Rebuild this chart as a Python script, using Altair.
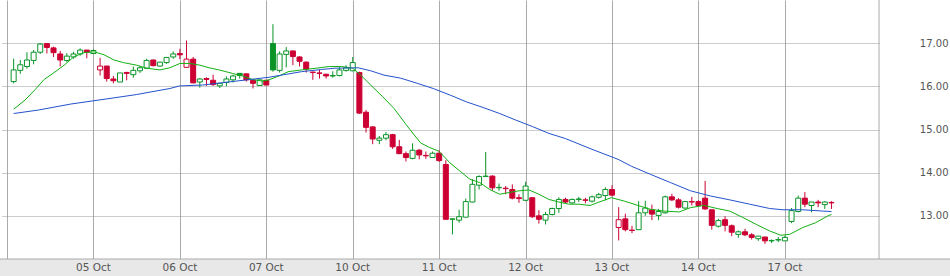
import altair as alt
import pandas as pd

# ---- data ----
day_labels = ["04 Oct", "05 Oct", "06 Oct", "07 Oct", "10 Oct", "11 Oct",
              "12 Oct", "13 Oct", "14 Oct", "17 Oct"]
bars_per_day = 13
first_bar = 1  # index of first visible bar (bar 0 of 04 Oct not shown)

opens = [
    16.11, 16.37, 16.46, 16.60, 16.79, 16.99, 16.89, 16.75, 16.60, 16.68, 16.75, 16.84,
    16.76, 16.38, 16.47, 16.17, 16.10, 16.32, 16.27, 16.36, 16.42, 16.61, 16.47, 16.55, 16.68,
    16.76, 16.44, 16.63, 16.10, 16.18, 16.14, 16.01, 16.09, 16.15, 16.30, 16.29, 16.14, 16.02,
    16.14, 16.99, 16.37, 16.74, 16.82, 16.68, 16.56, 16.33, 16.31, 16.28, 16.24, 16.25, 16.37,
    16.36, 16.32, 15.40, 15.06, 14.75, 14.80, 14.88, 14.60, 14.44, 14.33, 14.52, 14.40, 14.35,
    14.45, 14.19, 12.92, 12.90, 12.97, 13.32, 13.71, 13.91, 13.92, 13.65, 13.64, 13.61, 13.42,
    13.36, 13.42, 13.00, 12.90, 13.03, 13.17, 13.38, 13.30, 13.38, 13.37, 13.34, 13.43, 13.47,
    13.61, 12.73, 12.93, 12.67, 12.68, 13.07, 13.14, 13.01, 13.07, 13.44, 13.37, 13.18, 13.33,
    13.33, 13.41, 13.14, 12.76, 12.91, 12.77, 12.57, 12.63, 12.56, 12.47, 12.51, 12.42, 12.44,
    12.42, 12.87, 13.10, 13.41, 13.24, 13.32, 13.26, 13.31,
]
highs = [
    16.64, 16.61, 16.79, 16.84, 17.00, 17.00, 16.92, 16.82, 16.77, 16.80, 16.88, 16.84,
    16.86, 16.66, 16.47, 16.24, 16.31, 16.34, 16.46, 16.47, 16.64, 16.62, 16.57, 16.67, 16.81,
    16.87, 17.06, 16.68, 16.19, 16.21, 16.27, 16.07, 16.23, 16.27, 16.30, 16.29, 16.15, 16.15,
    16.14, 17.44, 16.81, 16.91, 16.82, 16.70, 16.58, 16.34, 16.38, 16.29, 16.35, 16.44, 16.49,
    16.68, 16.34, 15.45, 15.08, 14.85, 14.94, 14.90, 14.76, 14.49, 14.68, 14.55, 14.49, 14.49,
    14.52, 14.29, 12.94, 13.14, 13.40, 13.85, 13.94, 14.48, 13.94, 13.75, 13.69, 13.73, 13.50,
    13.79, 13.42, 13.13, 13.09, 13.19, 13.43, 13.42, 13.40, 13.44, 13.42, 13.47, 13.53, 13.66,
    13.71, 13.20, 13.05, 12.77, 13.34, 13.35, 13.26, 13.16, 13.47, 13.51, 13.41, 13.34, 13.44,
    13.36, 13.81, 13.14, 12.93, 12.99, 12.80, 12.66, 12.70, 12.60, 12.53, 12.51, 12.45, 12.51,
    12.54, 13.18, 13.47, 13.55, 13.32, 13.37, 13.34, 13.34,
]
lows = [
    16.07, 16.29, 16.41, 16.51, 16.75, 16.76, 16.68, 16.46, 16.56, 16.64, 16.71, 16.65,
    16.75, 16.25, 16.11, 16.07, 16.10, 16.14, 16.20, 16.31, 16.40, 16.46, 16.46, 16.52, 16.64,
    16.63, 16.44, 16.07, 15.97, 16.01, 16.01, 15.96, 16.00, 16.09, 16.18, 16.11, 15.95, 16.02,
    16.03, 16.34, 16.32, 16.44, 16.49, 16.46, 16.32, 16.15, 16.18, 16.18, 16.20, 16.23, 16.34,
    16.35, 15.36, 14.93, 14.66, 14.66, 14.75, 14.55, 14.43, 14.26, 14.31, 14.31, 14.32, 14.34,
    14.25, 12.92, 12.57, 12.84, 12.96, 13.31, 13.61, 13.91, 13.58, 13.58, 13.50, 13.38, 13.30,
    13.34, 12.95, 12.82, 12.80, 13.01, 13.07, 13.29, 13.28, 13.32, 13.29, 13.31, 13.40, 13.36,
    13.45, 12.43, 12.64, 12.60, 12.68, 13.00, 12.90, 12.90, 13.05, 13.34, 13.17, 13.17, 13.24,
    13.22, 13.14, 12.68, 12.73, 12.64, 12.53, 12.49, 12.53, 12.45, 12.42, 12.35, 12.37, 12.39,
    12.42, 12.83, 13.08, 13.20, 13.08, 13.20, 13.16, 13.16,
]
closes = [
    16.38, 16.50, 16.61, 16.79, 16.98, 16.90, 16.78, 16.61, 16.70, 16.75, 16.84, 16.79,
    16.83, 16.47, 16.18, 16.13, 16.31, 16.30, 16.37, 16.43, 16.60, 16.48, 16.56, 16.67, 16.75,
    16.73, 16.63, 16.08, 16.17, 16.16, 16.04, 16.07, 16.17, 16.24, 16.25, 16.15, 16.07, 16.15,
    16.03, 16.38, 16.75, 16.82, 16.69, 16.58, 16.40, 16.32, 16.30, 16.24, 16.25, 16.38, 16.43,
    16.55, 15.38, 15.05, 14.78, 14.80, 14.88, 14.60, 14.44, 14.35, 14.52, 14.41, 14.39, 14.45,
    14.28, 12.92, 12.93, 12.98, 13.33, 13.73, 13.91, 13.92, 13.65, 13.66, 13.63, 13.41, 13.40,
    13.69, 12.98, 12.92, 13.03, 13.17, 13.38, 13.32, 13.38, 13.39, 13.36, 13.44, 13.49, 13.61,
    13.48, 12.91, 12.68, 12.66, 13.07, 13.18, 13.04, 13.10, 13.44, 13.37, 13.20, 13.33, 13.32,
    13.24, 13.16, 12.78, 12.89, 12.78, 12.62, 12.63, 12.56, 12.50, 12.53, 12.42, 12.43, 12.45,
    12.50, 13.12, 13.41, 13.27, 13.32, 13.30, 13.32, 13.30,
]

# moving averages (bar position, value)
ma_fast_pos = [1.0, 2.7, 4.2, 5.6, 7.1, 8.6, 10.1, 11.6, 13.1, 14.6, 16.1, 17.5, 19.5, 21.0,
               23.0, 24.5, 26.0, 27.5, 29.0, 30.4, 31.9, 33.9, 35.4, 36.9, 38.4, 39.4, 40.9,
               42.3, 44.3, 46.5, 48.5, 50.3, 52.0, 53.2, 54.7, 56.5, 58.2, 59.9, 60.7, 62.2,
               63.6, 64.9, 65.7, 66.6, 68.1, 69.6, 71.1, 72.6, 74.1, 75.5, 77.0, 78.5, 80.0,
               81.5, 83.0, 84.5, 86.0, 87.7, 88.9, 90.9, 92.9, 94.9, 96.8, 98.8, 101.1, 102.8,
               104.8, 106.8, 108.7, 110.7, 112.7, 114.7, 116.4, 117.7, 119.7, 121.6, 123.6, 124.0]
ma_fast_val = [15.47, 15.68, 15.92, 16.16, 16.32, 16.49, 16.69, 16.78, 16.80, 16.73, 16.61,
               16.55, 16.49, 16.42, 16.38, 16.43, 16.53, 16.53, 16.49, 16.43, 16.38, 16.30,
               16.24, 16.16, 16.12, 16.15, 16.24, 16.34, 16.38, 16.42, 16.46, 16.46, 16.42,
               16.26, 16.03, 15.76, 15.49, 15.14, 14.98, 14.69, 14.58, 14.50, 14.38, 14.23,
               14.04, 13.85, 13.77, 13.61, 13.50, 13.54, 13.58, 13.60, 13.50, 13.38, 13.32,
               13.27, 13.27, 13.24, 13.31, 13.42, 13.34, 13.24, 13.15, 13.11, 13.09, 13.19,
               13.24, 13.17, 13.11, 12.96, 12.80, 12.65, 12.55, 12.57, 12.73, 12.84, 13.01, 13.03]
ma_slow_pos = [1.0, 4.7, 9.6, 14.6, 19.5, 24.5, 26.0, 29.4, 34.4, 39.4, 44.3, 47.3, 49.3,
               52.8, 54.7, 56.7, 59.2, 61.7, 64.1, 66.6, 69.1, 71.6, 74.1, 76.5, 79.0, 81.5,
               84.0, 88.0, 91.9, 93.9, 96.8, 99.8, 102.8, 105.8, 108.7, 111.7, 114.7, 116.7,
               119.7, 122.7, 124.0]
ma_slow_val = [15.37, 15.45, 15.59, 15.70, 15.81, 15.95, 16.01, 16.03, 16.12, 16.21, 16.34,
               16.39, 16.42, 16.43, 16.36, 16.26, 16.19, 16.07, 15.95, 15.80, 15.64, 15.51,
               15.37, 15.22, 15.07, 14.91, 14.79, 14.54, 14.31, 14.15, 13.96, 13.77, 13.58,
               13.46, 13.37, 13.27, 13.17, 13.14, 13.14, 13.11, 13.10]

y_ticks = [13, 14, 15, 16, 17]

# ---- styling ----
GREEN = "#0a9428"
RED = "#cc0033"
MA_GREEN = "#12b012"
MA_BLUE = "#2352cc"
GRID = "#aaaaaa"
TXT = "#555555"
FONT = "DejaVu Sans"

W, H = 877, 259
X_MAX = 130.4

# ---- tables ----
rows = []
prev = None
for i, (o, h, l, c) in enumerate(zip(opens, highs, lows, closes)):
    d = "g" if (prev is None or c > prev) else "r"
    f = "h" if c > o else d
    rows.append({"pos": first_bar + i, "open": o, "high": h, "low": l, "close": c,
                 "dir": d, "fillkind": f})
    prev = c
candles = pd.DataFrame(rows)

fast = pd.DataFrame({"pos": ma_fast_pos, "val": ma_fast_val})
slow = pd.DataFrame({"pos": ma_slow_pos, "val": ma_slow_val})
days = pd.DataFrame({"pos": [d * bars_per_day for d in range(1, len(day_labels))],
                     "label": day_labels[1:]})

xscale = alt.Scale(domain=[0, X_MAX], nice=False, zero=False)
yscale = alt.Scale(domain=[12, 18], nice=False, zero=False)

x_axis = alt.Axis(values=[d * bars_per_day for d in range(len(day_labels))],
                  grid=True, gridColor=GRID, gridWidth=1, labels=False, ticks=False,
                  domain=False, title=None)
y_axis = alt.Axis(orient="right", values=y_ticks, grid=True, gridColor="#999999",
                  gridDash=[1, 1], gridWidth=1, ticks=False, tickSize=0, domain=False,
                  labelAlign="right", labelPadding=69, labelColor=TXT, labelFont=FONT,
                  labelFontSize=10, format=".2f", title=None)

stroke_enc = alt.Stroke("dir:N", scale=alt.Scale(domain=["g", "r"], range=[GREEN, RED]),
                        legend=None)
fill_enc = alt.Fill("fillkind:N",
                    scale=alt.Scale(domain=["g", "r", "h"], range=[GREEN, RED, "#ffffff"]),
                    legend=None)

base = alt.Chart(candles)

wicks = base.mark_rule(strokeWidth=1).encode(
    x=alt.X("pos:Q", scale=xscale, axis=x_axis),
    y=alt.Y("low:Q", scale=yscale, axis=y_axis),
    y2="high:Q",
    stroke=stroke_enc,
)
bodies = base.mark_bar(width=5, strokeWidth=1).encode(
    x=alt.X("pos:Q", scale=xscale),
    y=alt.Y("open:Q", scale=yscale),
    y2="close:Q",
    fill=fill_enc,
    stroke=stroke_enc,
)
fast_line = alt.Chart(fast).mark_line(color=MA_GREEN, strokeWidth=1).encode(
    x=alt.X("pos:Q", scale=xscale), y=alt.Y("val:Q", scale=yscale))
slow_line = alt.Chart(slow).mark_line(color=MA_BLUE, strokeWidth=1).encode(
    x=alt.X("pos:Q", scale=xscale), y=alt.Y("val:Q", scale=yscale))

band = alt.Chart(alt.Data(values=[{}])).mark_rect(
    fill="#e8e8e8", stroke=GRID, strokeWidth=1).encode(
    x=alt.value(-4), x2=alt.value(952), y=alt.value(H), y2=alt.value(H + 25))

right_border = alt.Chart(alt.Data(values=[{}])).mark_rule(color=GRID, strokeWidth=1).encode(
    x=alt.value(W), y=alt.value(0), y2=alt.value(H))

day_text = alt.Chart(days).mark_text(
    font=FONT, fontSize=10.5, color=TXT, baseline="middle", align="center").encode(
    x=alt.X("pos:Q", scale=xscale), y=alt.value(H + 8.5), text="label:N")

chart = alt.layer(
    wicks, bodies, fast_line, slow_line, band, right_border, day_text
).resolve_scale(stroke="independent", fill="independent").properties(
    width=W, height=H,
    autosize=alt.AutoSizeParams(type="none"),
    padding={"left": 2, "top": 0, "right": 950 - 2 - W, "bottom": 276 - H},
    background="#ffffff",
).configure_view(stroke=None)

chart.save("out.html", embed_options={"renderer": "svg", "actions": False})
